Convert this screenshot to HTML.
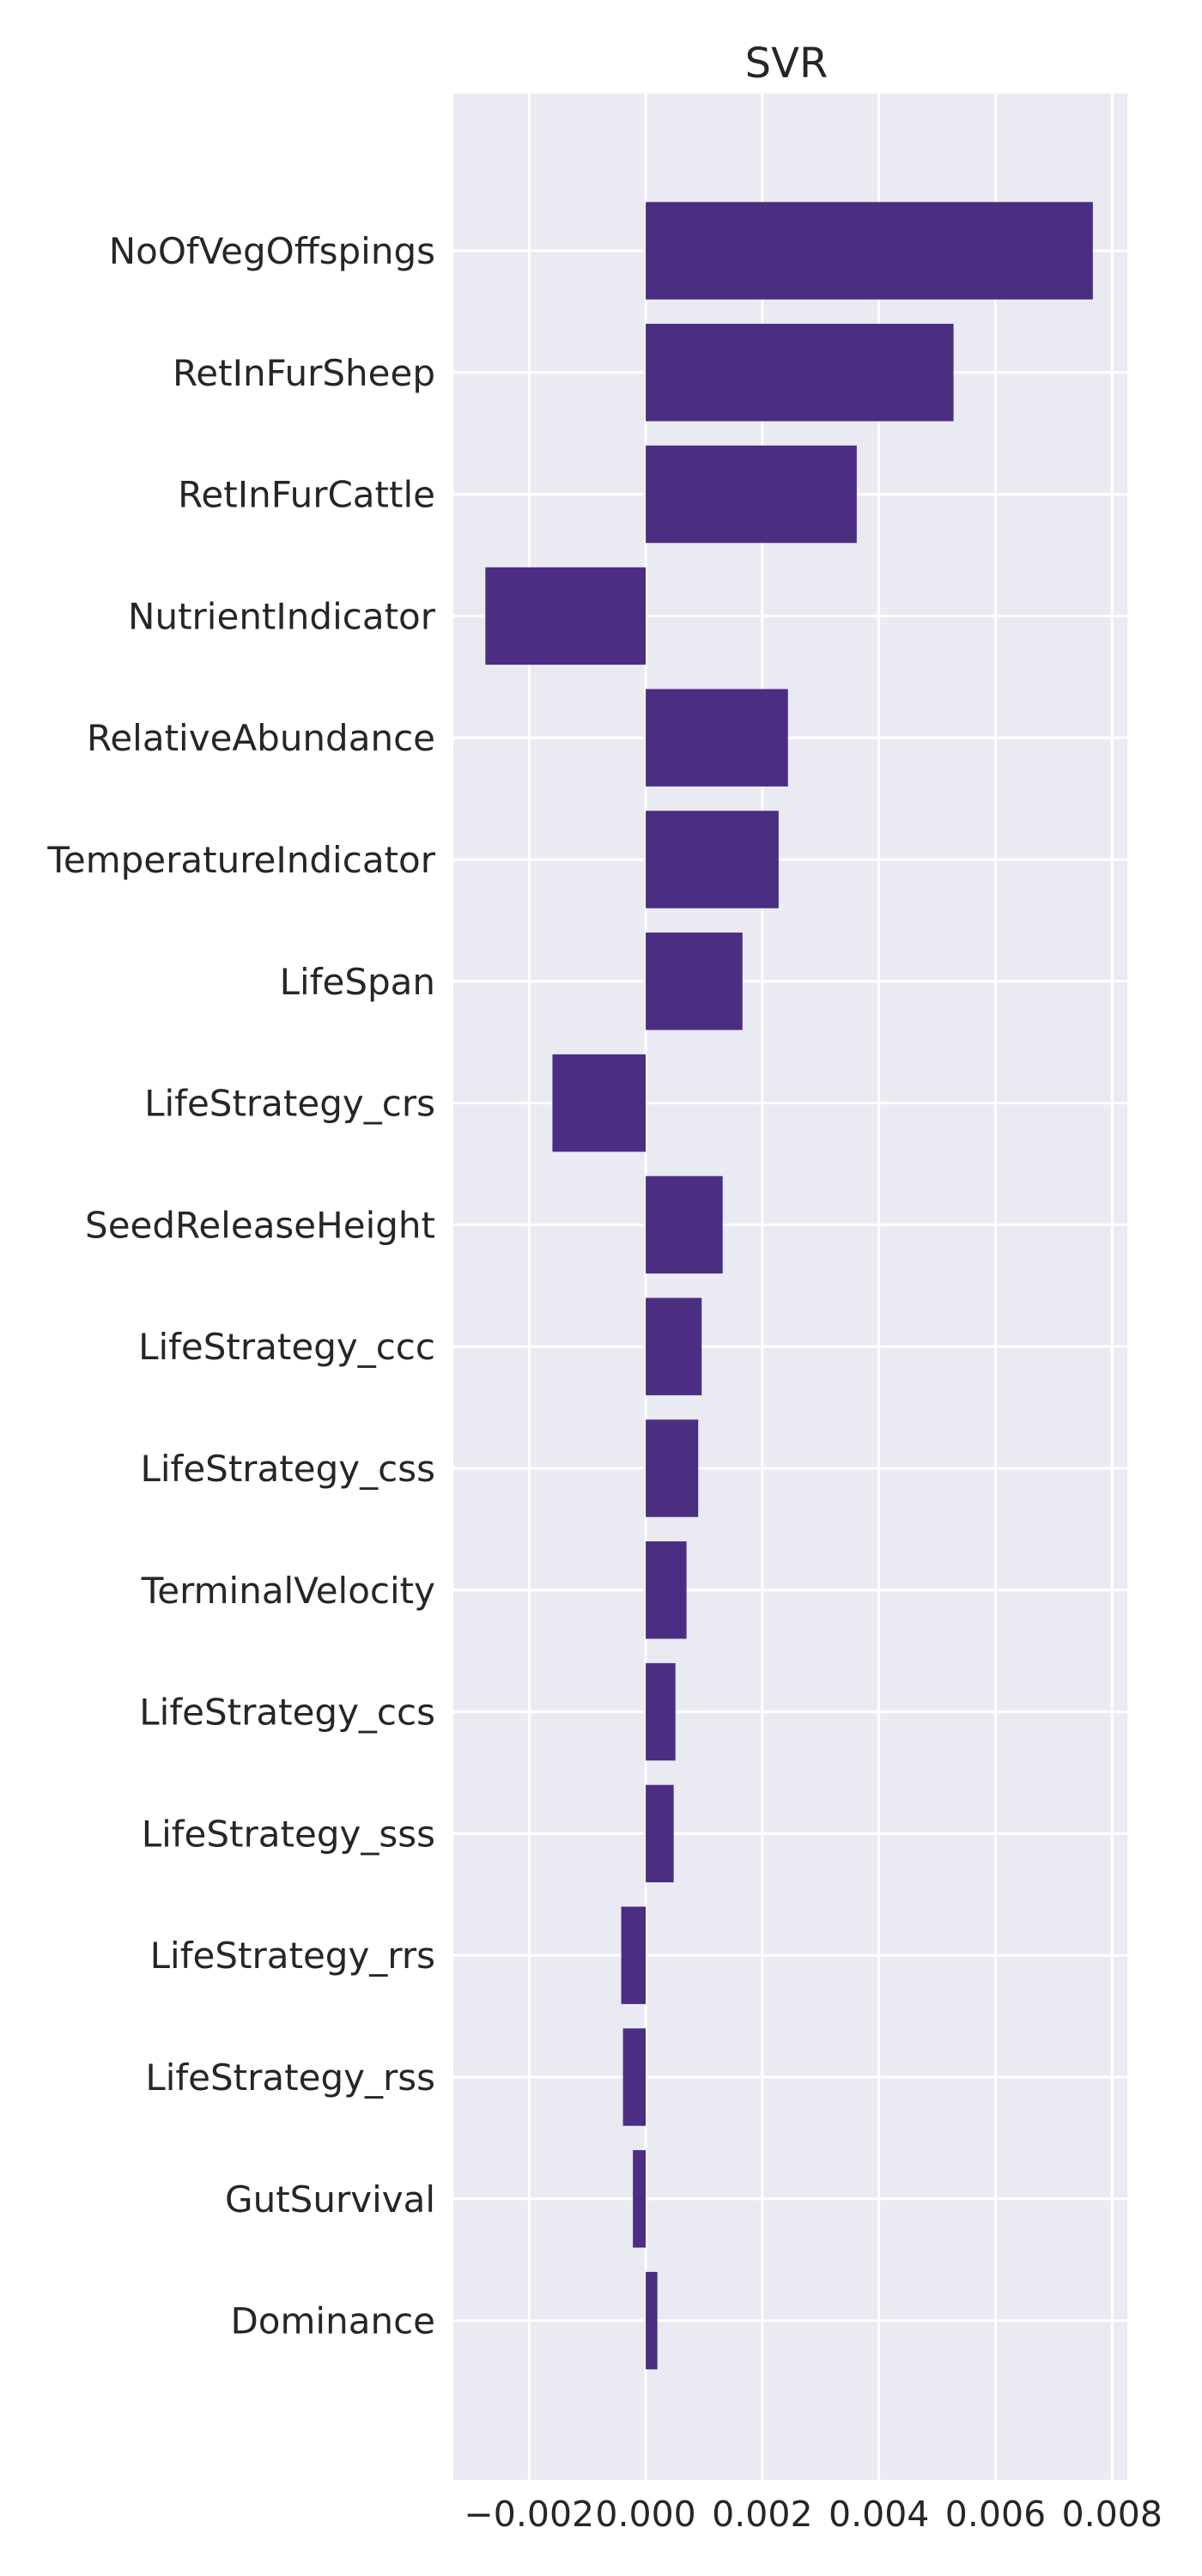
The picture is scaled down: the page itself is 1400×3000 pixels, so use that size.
<!DOCTYPE html>
<html><head><meta charset="utf-8"><style>
body{margin:0;background:#fff;}
svg{display:block;font-family:"DejaVu Sans","Liberation Sans",sans-serif;}
</style></head><body>
<svg id="chart" width="1400" height="3000" xmlns="http://www.w3.org/2000/svg"></svg>
<script>
const categories=["NoOfVegOffspings","RetInFurSheep","RetInFurCattle","NutrientIndicator","RelativeAbundance","TemperatureIndicator","LifeSpan","LifeStrategy_crs","SeedReleaseHeight","LifeStrategy_ccc","LifeStrategy_css","TerminalVelocity","LifeStrategy_ccs","LifeStrategy_sss","LifeStrategy_rrs","LifeStrategy_rss","GutSurvival","Dominance"];
const values=[0.00767,0.00528,0.00362,-0.00275,0.00244,0.00228,0.00166,-0.0016,0.00132,0.00096,0.0009,0.0007,0.00051,0.00048,-0.00042,-0.00039,-0.00022,0.0002];
const xTicks=[-0.002,0,0.002,0.004,0.006,0.008];
const xTickLabels=["\u22120.002","0.000","0.002","0.004","0.006","0.008"];
const NS="http://www.w3.org/2000/svg";
const svg=document.getElementById('chart');
const L=528,R=1313,T=109,B=2888;
const xMin=-0.0033,xMax=0.008261;
const x=v=>L+(v-xMin)/(xMax-xMin)*(R-L);
const y0=292,step=141.8;
const y=i=>y0+i*step;
function mk(tag,attrs){const e=document.createElementNS(NS,tag);for(const k in attrs)e.setAttribute(k,attrs[k]);svg.appendChild(e);return e;}
let bg=mk('rect',{x:L,y:T,width:R-L,height:B-T,fill:'#EAEAF2'});


xTicks.forEach((t,i)=>{
  let g=mk('line',{x1:x(t),x2:x(t),y1:T,y2:B,stroke:'#fff','stroke-width':3});
  
  
  let tl=mk('text',{x:x(t),y:2942,'text-anchor':'middle','font-size':41,fill:'#262626'});
  tl.textContent=xTickLabels[i];
  
  
});
categories.forEach((c,i)=>{
  let g=mk('line',{x1:L,x2:R,y1:y(i),y2:y(i),stroke:'#fff','stroke-width':3});
  
  
});
categories.forEach((c,i)=>{
  const v=values[i];const h=step*0.8;
  let b=mk('rect',{x:Math.min(x(0),x(v)),y:y(i)-h/2,width:Math.abs(x(v)-x(0)),height:h,fill:'#4B2D82'});
  
  
  let tl=mk('text',{x:507,y:y(i)+15,'text-anchor':'end','font-size':42,fill:'#262626'});
  tl.textContent=c;
  
  
});
let title=mk('text',{x:916,y:90,'text-anchor':'middle','font-size':48,fill:'#262626'});
title.textContent='SVR';


</script>
</body></html>
